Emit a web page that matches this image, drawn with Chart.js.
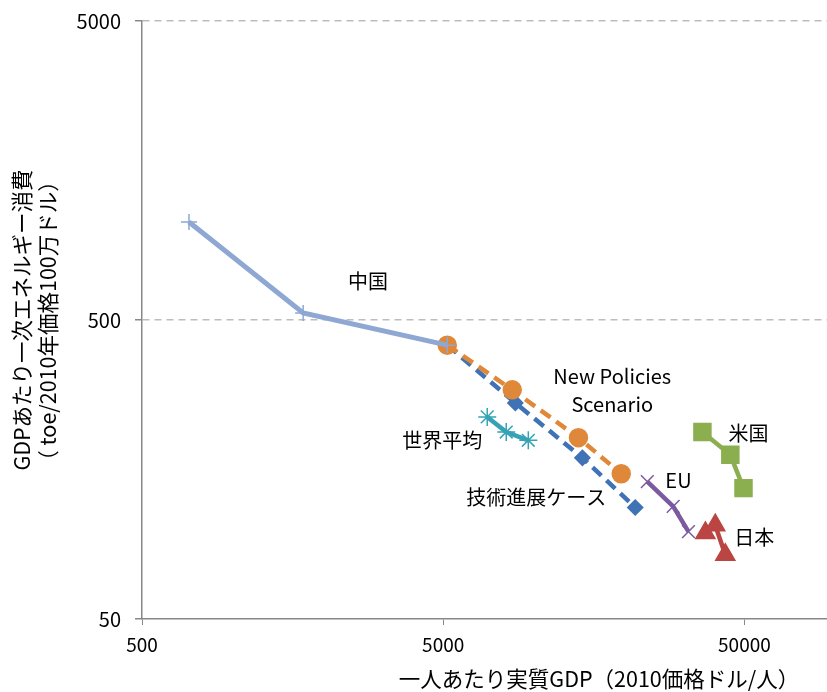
<!DOCTYPE html>
<html><head><meta charset="utf-8">
<script src="https://cdn.jsdelivr.net/npm/chart.js@4"></script>
<style>html,body{margin:0;padding:0;background:#fff;overflow:hidden}canvas{display:block}</style>
</head><body>
<canvas id="c" width="827" height="692"></canvas>
<script>
// ---- data (x: GDP per capita, y: primary energy per GDP) ----
const chinaX = [716, 1714, 5157];
const chinaY = [1064, 528, 412];
const npsX = [5157, 8477, 14060, 19500];
const npsY = [412, 292, 202, 153];
const techX = [5157, 8676, 14490, 21700];
const techY = [412, 264, 173, 118];
const worldX = [7000, 8096, 9582];
const worldY = [237, 211, 198];
const euX = [23800, 29000, 32600];
const euY = [144, 119, 98];
const usX = [36270, 44900, 49650];
const usY = [211, 177, 137];
const japanX = [37100, 40000, 43200];
const japanY = [97, 103, 82];
const xTicks = [500, 5000, 50000];
const yTicks = [50, 500, 5000];
const xTitle = '一人あたり実質GDP（2010価格ドル/人）';
const yTitle1 = 'GDPあたり一次エネルギー消費';
const yTitle2 = '（ toe/2010年価格100万ドル）';
const labelTexts = ['中国', 'New Policies', 'Scenario', '世界平均', '技術進展ケース', 'EU', '米国', '日本'];
const labelAnchorX = [2816, 18200, 18200, 4960, 10180, 30200, 51600, 53900];
const labelAnchorY = [675, 325, 262, 198, 128, 145, 208, 94];

const FONT = "'Noto Sans CJK JP', 'Noto Sans', sans-serif";
const pts = (xs, ys) => xs.map((x, i) => ({x, y: ys[i]}));

function ds(label, xs, ys, color, style, radius, extra) {
  return Object.assign({
    label, data: pts(xs, ys), showLine: true,
    borderColor: color, backgroundColor: color,
    pointBorderColor: color, pointBackgroundColor: color,
    borderWidth: 4.5, pointStyle: style, pointRadius: radius,
    pointHoverRadius: radius, pointBorderWidth: 1.5
  }, extra || {});
}

const labelPlugin = {
  id: 'labels',
  afterDraw(chart) {
    const {ctx, scales: {x, y}} = chart;
    ctx.save();
    ctx.fillStyle = '#000';
    ctx.textAlign = 'center';
    ctx.textBaseline = 'middle';
    ctx.font = '20px ' + FONT;
    labelTexts.forEach((t, i) => {
      ctx.fillText(t, x.getPixelForValue(labelAnchorX[i]), y.getPixelForValue(labelAnchorY[i]));
    });
    // axis titles
    ctx.font = '21.5px ' + FONT;
    ctx.fillText(xTitle, 599, 679);
    ctx.save();
    ctx.translate(22, 320);
    ctx.rotate(-Math.PI / 2);
    ctx.fillText(yTitle1, 0, 0);
    ctx.restore();
    ctx.save();
    ctx.translate(48, 321);
    ctx.rotate(-Math.PI / 2);
    ctx.fillText(yTitle2, 0, 0);
    ctx.restore();
    ctx.restore();
  }
};

new Chart(document.getElementById('c'), {
  type: 'scatter',
  data: {
    datasets: [
      ds('中国', chinaX, chinaY, '#8EA7D3', 'cross', 8, {pointBorderWidth: 1.5, borderWidth: 5}),
      ds('New Policies Scenario', npsX, npsY, '#E0883A', 'circle', 9, {borderDash: [12, 7]}),
      ds('技術進展ケース', techX, techY, '#3F73B5', 'rectRot', 7.5, {borderDash: [12, 7]}),
      ds('世界平均', worldX, worldY, '#35A3B5', 'star', 9, {pointBorderWidth: 1.5}),
      ds('EU', euX, euY, '#7B5AA0', 'crossRot', 9, {pointBorderWidth: 1.5}),
      ds('米国', usX, usY, '#8BAF4E', 'rect', 12),
      ds('日本', japanX, japanY, '#BA4542', 'triangle', 11)
    ]
  },
  options: {
    responsive: false,
    animation: false,
    devicePixelRatio: 1,
    layout: {autoPadding: false, padding: {top: 21, right: 0, left: 0, bottom: 0}},
    plugins: {legend: {display: false}, tooltip: {enabled: false}},
    scales: {
      x: {
        type: 'logarithmic', min: 500, max: 94000,
        afterBuildTicks: s => { s.ticks = xTicks.map(v => ({value: v})); },
        afterFit: s => { s.height = 73; s.paddingRight = 0; s.paddingLeft = 0; },
        grid: {drawOnChartArea: false, tickLength: 6, tickColor: '#888', color: '#888'},
        border: {color: '#888', width: 1.5},
        ticks: {callback: v => String(v), color: '#000', font: {family: FONT, size: 19}, padding: 8, maxRotation: 0, autoSkip: false}
      },
      y: {
        type: 'logarithmic', min: 50, max: 5000,
        afterBuildTicks: s => { s.ticks = yTicks.map(v => ({value: v})); },
        afterFit: s => { s.width = 142; s.paddingTop = 0; s.paddingBottom = 0; },
        grid: {
          color: c => (c.tick && c.tick.value === 50) ? 'rgba(0,0,0,0)' : '#BDBDBD',
          lineWidth: 1.5, tickLength: 7, tickColor: '#888'
        },
        border: {color: '#888', width: 1.5, dash: [7, 5]},
        ticks: {callback: v => String(v), color: '#000', font: {family: FONT, size: 20}, padding: 14, autoSkip: false}
      }
    }
  },
  plugins: [labelPlugin]
});
</script>
</body></html>
